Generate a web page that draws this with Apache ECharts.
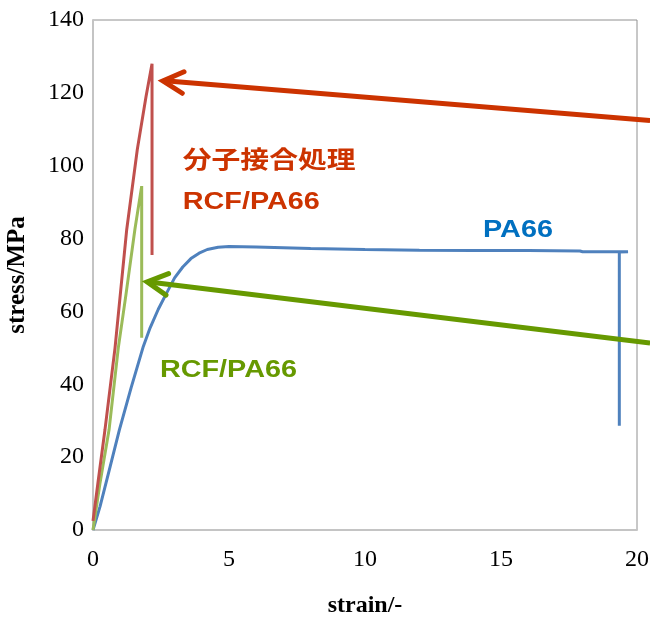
<!DOCTYPE html>
<html><head><meta charset="utf-8">
<script src="https://cdn.jsdelivr.net/npm/echarts@6/dist/echarts.min.js"></script>
<style>html,body{margin:0;padding:0;background:#fff}#c{width:650px;height:617px}</style>
</head><body><div id="c"></div>
<script>
// ---- data (strain, stress) ----
const xTicks = [0, 5, 10, 15, 20];
const yTicks = [0, 20, 40, 60, 80, 100, 120, 140];
const pa66 = [[0,0],[0.26,6.5],[0.6,16.5],[0.97,27.5],[1.4,39],[1.85,50.4],[2.1,55.5],[2.4,60.6],[2.71,65.1],[3.0,69.2],[3.3,72.2],[3.6,74.5],[3.9,76],[4.2,77],[4.6,77.6],[5,77.8],[6,77.7],[8,77.3],[10,77],[12,76.8],[14,76.7],[16,76.7],[17.9,76.6],[18,76.4],[19.67,76.4],[19.35,76.3],[19.35,28.6]];
const rcf = [[0,0],[0.26,13],[0.59,27.5],[0.93,50],[1.2,64],[1.54,82.5],[1.79,94.4],[1.79,52.8]];
const rcfTreated = [[0,2.5],[0.2,14],[0.44,27.5],[0.81,50],[1.24,82.5],[1.63,104.5],[1.95,119],[2.17,128],[2.17,75.5]];
const redArrow = [[20.48,112.4],[2.57,123.3]];   // [tail, tip]
const greenArrow = [[20.48,51.3],[1.99,68.1]];   // [tail, tip]
const labelTexts = ['分子接合処理', 'RCF/PA66', 'PA66', 'RCF/PA66'];
const labelAnchors = [[3.3,101.1],[3.3,90],[14.34,82.2],[2.46,43.8]];
const labelColors = ['#cc3300', '#cc3300', '#0070c0', '#669900'];

const chart = echarts.init(document.getElementById('c'), null, {renderer: 'canvas'});
const tickFont = {fontFamily: '"Liberation Serif", "Times New Roman", serif', fontSize: 24, color: '#000'};
chart.setOption({
  animation: false,
  backgroundColor: '#fff',
  grid: {left: 93, right: 13, top: 20, bottom: 87, show: true, borderColor: '#909090', borderWidth: 1,
         containLabel: false, outerBoundsMode: 'none'},
  xAxis: {
    type: 'value', min: xTicks[0], max: xTicks[xTicks.length-1], interval: xTicks[1]-xTicks[0],
    name: 'strain/-', nameLocation: 'middle', nameGap: 64,
    nameTextStyle: {fontFamily: '"Liberation Serif", serif', fontWeight: 'bold', fontSize: 24, color: '#000'},
    axisLine: {show: true, lineStyle: {color: '#c4c4c4', width: 2}},
    axisTick: {show: false}, splitLine: {show: false},
    axisLabel: Object.assign({margin: 18}, tickFont)
  },
  yAxis: {
    type: 'value', min: yTicks[0], max: yTicks[yTicks.length-1], interval: yTicks[1]-yTicks[0],
    name: 'stress/MPa', nameLocation: 'middle', nameGap: 63, nameRotate: 90,
    nameTextStyle: {fontFamily: '"Liberation Serif", serif', fontWeight: 'bold', fontSize: 25, color: '#000'},
    axisLine: {show: true, lineStyle: {color: '#c4c4c4', width: 2}},
    axisTick: {show: false}, splitLine: {show: false},
    axisLabel: Object.assign({margin: 9}, tickFont)
  },
  series: [
    {name: 'PA66', type: 'line', data: pa66, showSymbol: false, lineStyle: {color: '#4f81bd', width: 3}, itemStyle: {color: '#4f81bd'}},
    {name: 'RCF/PA66', type: 'line', data: rcf, showSymbol: false, lineStyle: {color: '#9bbb59', width: 3}, itemStyle: {color: '#9bbb59'}},
    {name: 'treated RCF/PA66', type: 'line', data: rcfTreated, showSymbol: false, lineStyle: {color: '#c0504d', width: 3}, itemStyle: {color: '#c0504d'}}
  ]
});

function px(p) { return chart.convertToPixel({gridIndex: 0}, p); }
function arrowGraphics(arr, color) {
  const tail = px(arr[0]), tip = px(arr[1]);
  const dx = tail[0]-tip[0], dy = tail[1]-tip[1];
  const ang = Math.atan2(dy, dx), L = 23, th = 28 * Math.PI / 180;
  const a1 = [tip[0] + L*Math.cos(ang-th), tip[1] + L*Math.sin(ang-th)];
  const a2 = [tip[0] + L*Math.cos(ang+th), tip[1] + L*Math.sin(ang+th)];
  return [
    {type: 'line', z: 100, shape: {x1: tail[0], y1: tail[1], x2: tip[0]+2, y2: tip[1]}, style: {stroke: color, lineWidth: 5}},
    {type: 'polyline', z: 100, shape: {points: [a1, tip, a2]}, style: {stroke: color, lineWidth: 5, fill: null, lineJoin: 'miter', lineCap: 'round'}}
  ];
}
const g = [].concat(arrowGraphics(redArrow, '#cc3300'), arrowGraphics(greenArrow, '#669900'));
labelTexts.forEach(function (t, i) {
  const p = px(labelAnchors[i]);
  g.push({type: 'text', z: 101, x: p[0], y: p[1], scaleX: 1.2,
    style: {text: t, fill: labelColors[i],
      font: 'bold 24px "Liberation Sans", "Noto Sans CJK JP", sans-serif',
      align: 'left', verticalAlign: 'middle', textAlign: 'left', textVerticalAlign: 'middle'}});
});
chart.setOption({graphic: g});
</script>
</body></html>
